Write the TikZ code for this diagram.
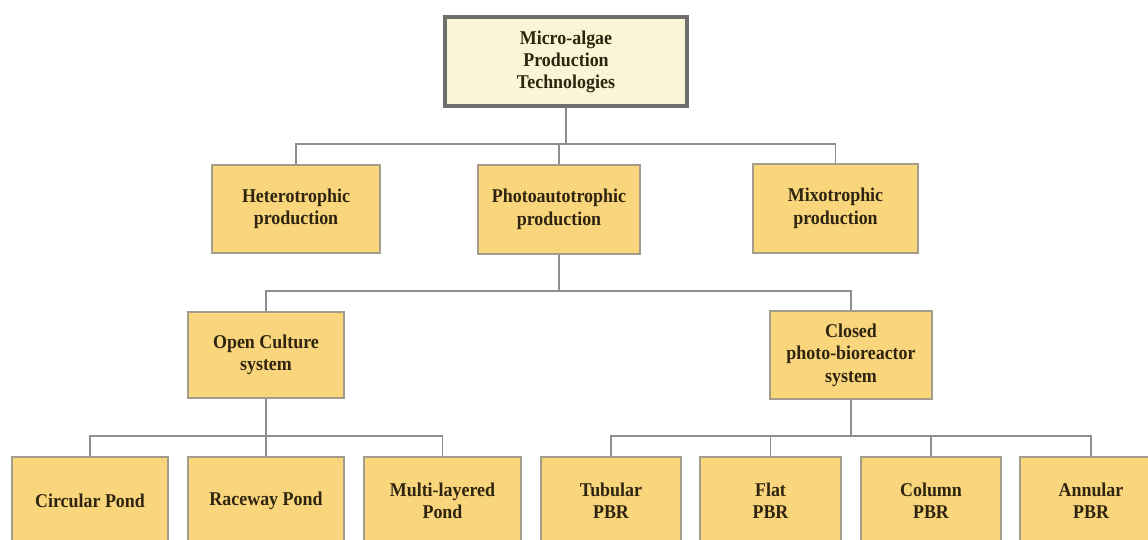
\documentclass[tikz,border=0pt]{standalone}
\usepackage{fontspec}
\setmainfont{Liberation Serif}
\newfontfamily\boxfont[FakeStretch=0.92]{Liberation Serif}
\definecolor{boxfill}{HTML}{F9D57B}
\definecolor{boxdraw}{HTML}{A39C8A}
\definecolor{rootfill}{HTML}{F8F6D4}
\definecolor{rootdraw}{HTML}{6E6E6E}
\definecolor{linecol}{HTML}{8E8E8E}
\definecolor{txt}{HTML}{2E2410}
\tikzset{
  box/.style={draw=boxdraw, fill=boxfill, line width=1.2pt, inner sep=0pt, align=center,
    text=txt, font=\boxfont\fontsize{19.5}{22.5}\selectfont\bfseries},
  rootbox/.style={draw=rootdraw, fill=rootfill, line width=4pt, inner sep=0pt, align=center,
    text=txt, font=\boxfont\fontsize{19.5}{22}\selectfont\bfseries,
    minimum width=242pt, minimum height=89pt},
  conn/.style={draw=linecol, line width=1.6pt}
}
\begin{document}
\begin{tikzpicture}[x=1pt,y=-1pt]
\clip (0,0) rectangle (1148,539);
\fill[white] (0,0) rectangle (1148,539);
% nodes
\node[rootbox] (root) at (566,61.5) {Micro-algae\\Production\\Technologies};
\node[box, minimum width=168pt, minimum height=88pt] (het) at (296,209) {Heterotrophic\\production};
\node[box, minimum width=162pt, minimum height=89pt] (pho) at (559,209.5) {Photoautotrophic\\production};
\node[box, minimum width=165pt, minimum height=89pt] (mix) at (835.5,208.5) {Mixotrophic\\production};
\node[box, minimum width=156pt, minimum height=86pt] (open) at (266,355) {Open Culture\\system};
\node[box, minimum width=162pt, minimum height=88pt] (closed) at (851,355) {Closed\\photo-bioreactor\\system};
\node[box, minimum width=156pt, minimum height=88pt] (circ) at (90,501) {Circular Pond};
\node[box, minimum width=156pt, minimum height=88pt] (race) at (266,501) {Raceway Pond};
\node[box, minimum width=157pt, minimum height=88pt] (multi) at (442.5,501) {Multi-layered\\Pond};
\node[box, minimum width=140pt, minimum height=88pt] (tub) at (611,501) {Tubular\\PBR};
\node[box, minimum width=141pt, minimum height=88pt] (flat) at (770.5,501) {Flat\\PBR};
\node[box, minimum width=140pt, minimum height=88pt] (col) at (931,501) {Column\\PBR};
\node[box, minimum width=142pt, minimum height=88pt] (ann) at (1091,501) {Annular\\PBR};
% junction coordinates
\coordinate (j1) at (566,144);
\coordinate (j2) at (559,291);
\coordinate (j3) at (266,436);
\coordinate (j4) at (851,436);
% connectors
\draw[conn] (root.south) -- (j1);
\draw[conn] (het.north) -- (het.north |- j1) -- (mix.north |- j1) -- (mix.north);
\draw[conn] (pho.north) -- (pho.north |- j1);
\draw[conn] (pho.south) -- (j2);
\draw[conn] (open.north) -- (open.north |- j2) -- (closed.north |- j2) -- (closed.north);
\draw[conn] (open.south) -- (j3);
\draw[conn] (circ.north) -- (circ.north |- j3) -- (multi.north |- j3) -- (multi.north);
\draw[conn] (race.north) -- (race.north |- j3);
\draw[conn] (closed.south) -- (j4);
\draw[conn] (tub.north) -- (tub.north |- j4) -- (ann.north |- j4) -- (ann.north);
\draw[conn] (flat.north) -- (flat.north |- j4);
\draw[conn] (col.north) -- (col.north |- j4);
\end{tikzpicture}
\end{document}
